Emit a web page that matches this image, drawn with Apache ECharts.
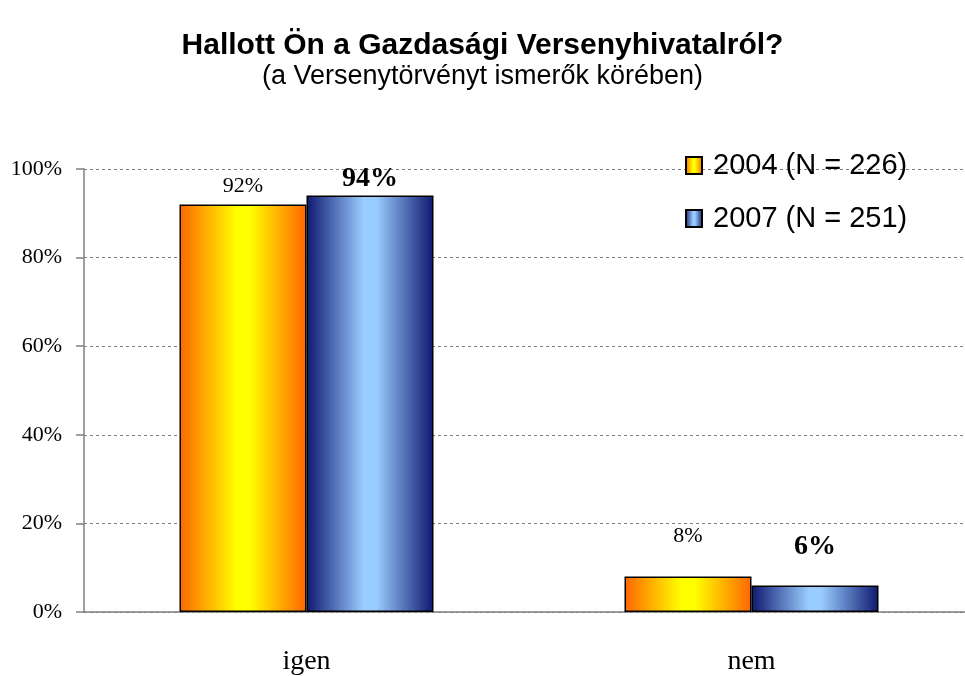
<!DOCTYPE html>
<html>
<head>
<meta charset="utf-8">
<script src="https://cdn.jsdelivr.net/npm/echarts@6/dist/echarts.min.js"></script>
<style>
  html, body { margin: 0; padding: 0; background: #fff; }
  #chart { width: 965px; height: 676px; }
</style>
</head>
<body>
<div id="chart"></div>
<script>
// adatok
const categories = ['igen', 'nem']
const seriesNames = ['2004 (N = 226)', '2007 (N = 251)']
const values2004 = [92, 8]
const values2007 = [94, 6]
const yTicks = [0, 20, 40, 60, 80, 100]

const serif = 'Liberation Serif, Times New Roman, serif'
const sans = 'Liberation Sans, Arial, sans-serif'

const orangeGrad = new echarts.graphic.LinearGradient(0, 0, 1, 0, [
  { offset: 0, color: '#ff6600' },
  { offset: 0.45, color: '#ffff00' },
  { offset: 0.55, color: '#ffff00' },
  { offset: 1, color: '#ff6600' }
])
const blueGrad = new echarts.graphic.LinearGradient(0, 0, 1, 0, [
  { offset: 0, color: '#0f1870' },
  { offset: 0.45, color: '#99ccff' },
  { offset: 0.55, color: '#99ccff' },
  { offset: 1, color: '#0f1870' }
])

// a "nem" feliratok kézzel feljebb tolva, mint az eredetin
const withLift = (vals, base, extra) =>
  vals.map((v, i) => ({ value: v, label: { distance: i === 1 ? base + extra : base } }))

const options = {
  animation: false,
  title: {
    text: 'Hallott Ön a Gazdasági Versenyhivatalról?',
    subtext: '(a Versenytörvényt ismerők körében)',
    left: 'center',
    top: 26,
    itemGap: 2,
    textStyle: {
      fontFamily: sans,
      fontSize: 30,
      fontWeight: 'bold',
      color: '#000'
    },
    subtextStyle: {
      fontFamily: sans,
      fontSize: 27,
      color: '#000'
    }
  },
  legend: {
    orient: 'vertical',
    left: 680,
    top: 146,
    icon: 'rect',
    itemWidth: 16,
    itemHeight: 17,
    itemGap: 24,
    textStyle: {
      fontFamily: sans,
      fontSize: 29,
      color: '#000',
      padding: [0, 0, 0, 6]
    },
    data: seriesNames
  },
  grid: {
    left: 84,
    width: 890,
    top: 169,
    bottom: 64,
    outerBoundsMode: 'none'
  },
  xAxis: {
    type: 'category',
    data: categories,
    axisLine: { lineStyle: { color: '#808080', width: 1.5 } },
    axisTick: { length: 10, lineStyle: { color: '#808080', width: 1.5 } },
    axisLabel: {
      margin: 36,
      fontFamily: serif,
      fontSize: 28,
      color: '#000'
    }
  },
  yAxis: {
    type: 'value',
    min: yTicks[0],
    max: yTicks[yTicks.length - 1],
    interval: 20,
    axisLine: { show: true, lineStyle: { color: '#808080', width: 1.5 } },
    axisTick: { show: true, length: 8, lineStyle: { color: '#808080', width: 1.5 } },
    axisLabel: {
      formatter: '{value}%',
      margin: 22,
      fontFamily: serif,
      fontSize: 22,
      color: '#000'
    },
    splitLine: { lineStyle: { color: '#808080', type: [3, 3], width: 1 } }
  },
  series: [
    {
      name: seriesNames[0],
      type: 'bar',
      data: withLift(values2004, 7, 22),
      barWidth: 127,
      barGap: '0%',
      itemStyle: { color: orangeGrad, borderColor: '#000', borderWidth: 1.5 },
      label: {
        show: true,
        position: 'top',
        formatter: '{c}%',
        fontFamily: serif,
        fontSize: 22,
        color: '#000'
      }
    },
    {
      name: seriesNames[1],
      type: 'bar',
      data: withLift(values2007, 3, 22),
      barWidth: 127,
      barGap: '0%',
      itemStyle: { color: blueGrad, borderColor: '#000', borderWidth: 1.5 },
      label: {
        show: true,
        position: 'top',
        formatter: '{c}%',
        fontFamily: serif,
        fontSize: 28,
        fontWeight: 'bold',
        color: '#000'
      }
    }
  ]
}

const chart = echarts.init(document.getElementById('chart'))
chart.setOption(options)
</script>
</body>
</html>
